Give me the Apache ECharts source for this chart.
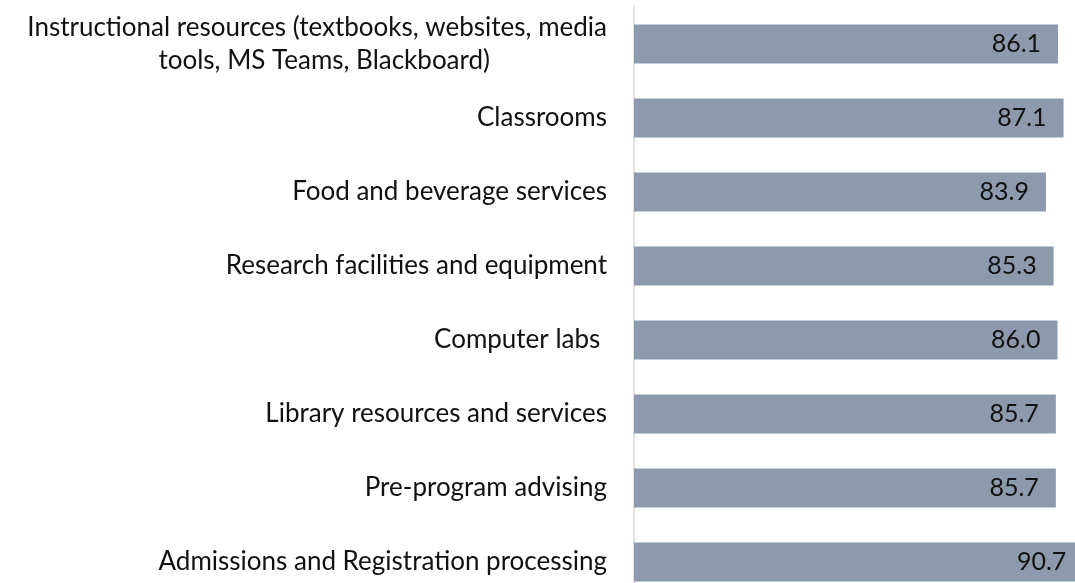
<!DOCTYPE html>
<html>
	<head>
		<meta charset="utf-8" />
		<title></title>
		<script type="text/javascript" src="https://cdn.jsdelivr.net/npm/echarts@6/dist/echarts.min.js"></script>
	</head>
	<body style="margin:0;background:#fff;">
		<div id="chart" style="width: 1075px;height:583px;"></div>
	</body>
</html>
<script type="text/javascript">
	var categories = [
		"Instructional resources (textbooks, websites, media\ntools, MS Teams, Blackboard)",
		"Classrooms",
		"Food and beverage services",
		"Research facilities and equipment",
		"Computer labs ",
		"Library resources and services",
		"Pre-program advising",
		"Admissions and Registration processing"
	];
	var values = [86.1, 87.1, 83.9, 85.3, 86.0, 85.7, 85.7, 90.7];

	var chart = echarts.init(document.getElementById("chart"));
	chart.setOption({
		backgroundColor: "#fff",
		animation: false,
		grid: {
			left: 634,
			right: -10,
			top: 7,
			bottom: -16,
			outerBoundsMode: "none"
		},
		xAxis: {
			type: "value",
			min: 9,
			max: 91,
			show: false
		},
		yAxis: {
			type: "category",
			data: categories,
			inverse: true,
			axisTick: { show: false },
			axisLine: {
				lineStyle: { color: "#d9d9d9", width: 1.5 }
			},
			axisLabel: {
				margin: 27,
				color: "#111",
				fontFamily: "Lato",
				fontSize: 26,
				lineHeight: 33,
				formatter: function (v) {
					var parts = v.split("\n");
					if (parts.length > 1) {
						return "{a|" + parts[0] + "}\n{b|" + parts[1] + "}";
					}
					return v;
				},
				rich: {
					a: { fontFamily: "Lato", fontSize: 26, lineHeight: 33, color: "#111" },
					b: { fontFamily: "Lato", fontSize: 26, lineHeight: 33, color: "#111", align: "right", padding: [0, 117, 0, 0] }
				}
			}
		},
		series: [{
			type: "bar",
			data: values,
			barWidth: 39,
			clip: true,
			itemStyle: { color: "#8D99AD" },
			label: {
				show: true,
				position: "insideRight",
				distance: 17,
				color: "#111",
				fontFamily: "Lato",
				fontSize: 25,
				formatter: function (p) { return p.value.toFixed(1); }
			}
		}]
	});
</script>
